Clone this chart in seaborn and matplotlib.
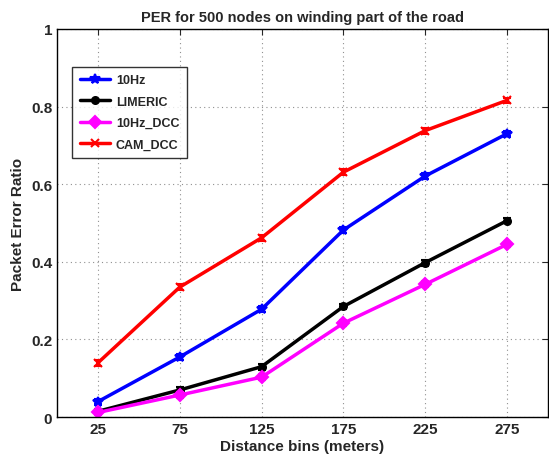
import matplotlib
matplotlib.use("Agg")
import matplotlib.pyplot as plt
import seaborn as sns
import pandas as pd

distance = [25, 75, 125, 175, 225, 275]
per_10hz = [0.040, 0.155, 0.278, 0.482, 0.621, 0.730]
per_limeric = [0.015, 0.070, 0.130, 0.285, 0.398, 0.506]
per_10hz_dcc = [0.012, 0.057, 0.103, 0.242, 0.342, 0.445]
per_cam_dcc = [0.140, 0.335, 0.462, 0.631, 0.738, 0.816]
err = [0.007, 0.007, 0.008, 0.007, 0.008, 0.006]

series = ["10Hz", "LIMERIC", "10Hz_DCC", "CAM_DCC"]
values = [per_10hz, per_limeric, per_10hz_dcc, per_cam_dcc]
colors = ["#0000ff", "#000000", "#ff00ff", "#ff0000"]
markers = ["*", "o", "D", "x"]
msizes = [7, 5, 6, 6]

sns.set_style("white")
plt.rcParams['font.family'] = ['Liberation Sans', 'DejaVu Sans']
plt.rcParams['font.weight'] = 'bold'

fig = plt.figure(figsize=(5.49, 4.60), dpi=100)
ax = fig.add_axes([0.104, 0.091, 0.894, 0.844])

for name, vals, c, m, ms in zip(series, values, colors, markers, msizes):
    df = pd.DataFrame({"Distance": distance, "PER": vals})
    sns.lineplot(data=df, x="Distance", y="PER", color=c, marker=m, markersize=ms,
                 markeredgecolor=c, markeredgewidth=1.5, linewidth=2.5, label=name, ax=ax)
    ax.errorbar(distance, vals, yerr=err, fmt="none", ecolor=c, elinewidth=2.5,
                capsize=3, capthick=1.5)

ax.set_xlim(0, 300)
ax.set_ylim(0, 1)
ax.set_xticks(distance)
ax.set_yticks([0, 0.2, 0.4, 0.6, 0.8, 1])
ax.set_yticklabels(["0", "0.2", "0.4", "0.6", "0.8", "1"])
ax.grid(True, linestyle=(0, (1, 3)), color="#909090", linewidth=0.8)
ax.tick_params(direction="in", top=True, right=True, length=4, labelsize=11)
for lbl in ax.get_xticklabels() + ax.get_yticklabels():
    lbl.set_fontweight("bold")
for s in ax.spines.values():
    s.set_color("black")
    s.set_linewidth(1)

ax.set_title("PER for 500 nodes on winding part of the road", fontsize=10.5, fontweight="bold")
ax.set_xlabel("Distance bins (meters)", fontsize=11, fontweight="bold", labelpad=2)
ax.set_ylabel("Packet Error Ratio", fontsize=11, fontweight="bold", labelpad=4)

leg = ax.legend(loc="upper left", bbox_to_anchor=(0.018, 0.918), frameon=True, fancybox=False,
                edgecolor="black", fontsize=9, handlelength=2.4, handletextpad=0.5,
                borderpad=0.6, labelspacing=0.75)
leg.get_frame().set_linewidth(1)
for t in leg.get_texts():
    t.set_fontweight("bold")

fig.savefig("out.png", dpi=100)
